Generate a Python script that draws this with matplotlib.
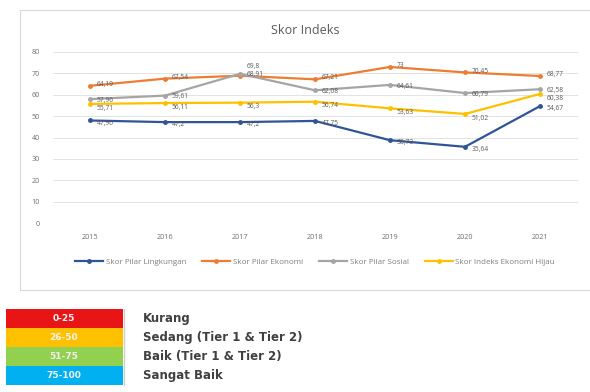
import matplotlib
matplotlib.use("Agg")
import matplotlib.pyplot as plt
from matplotlib.patches import Rectangle

years = ["2015", "2016", "2017", "2018", "2019", "2020", "2021"]
lingkungan = [47.96, 47.2, 47.2, 47.75, 38.73, 35.64, 54.67]
ekonomi = [64.19, 67.54, 68.91, 67.21, 73.0, 70.45, 68.77]
sosial = [57.96, 59.61, 69.8, 62.08, 64.61, 60.79, 62.58]
hijau = [55.71, 56.11, 56.3, 56.74, 53.63, 51.02, 60.38]
series_names = ["Skor Pilar Lingkungan", "Skor Pilar Ekonomi", "Skor Pilar Sosial",
                "Skor Indeks Ekonomi Hijau"]
y_ticks = [0, 10, 20, 30, 40, 50, 60, 70, 80]

ranges = ["0-25", "26-50", "51-75", "75-100"]
range_labels = ["Kurang", "Sedang (Tier 1 & Tier 2)", "Baik (Tier 1 & Tier 2)", "Sangat Baik"]
range_colors = ["#E81416", "#FFC000", "#92D050", "#00B0F0"]

W, H = 590, 392
fig = plt.figure(figsize=(W / 100, H / 100), dpi=100)
plt.rcParams['font.family'] = ['Open Sans', 'DejaVu Sans']

# chart frame
fig.patches.append(Rectangle((20 / W, 1 - 290 / H), 1.0, 280 / H,
                             transform=fig.transFigure, facecolor="none",
                             edgecolor="#D9D9D9", linewidth=0.8, zorder=-1))

ax = fig.add_axes([52.5 / W, 1 - 223 / H, 525 / W, 171 / H])
ax.set_facecolor("none")
colors = ["#2F5597", "#ED7D31", "#A5A5A5", "#FFC000"]
# vertical label offsets (points) per series, per point
label_dy = [[-2] * 7, [1] * 7, [-1, -1, 5, -1, -1, -1, -1], [-3] * 7]
xs = list(range(len(years)))
all_series = [lingkungan, ekonomi, sosial, hijau]
for vals, c, name, dys in zip(all_series, colors, series_names, label_dy):
    ax.plot(xs, vals, color=c, linewidth=1.6, marker="o", markersize=2.5, label=name, zorder=3)
    for x, v, dy in zip(xs, vals, dys):
        ax.annotate(f"{v:g}".replace(".", ","), (x, v), xytext=(5, dy),
                    textcoords="offset points", fontsize=4.8, color="#595959",
                    va="center", ha="left", zorder=4)

ax.set_xlim(-0.5, len(years) - 0.5)
ax.set_ylim(0, 80)
ax.set_yticks(y_ticks)
ax.set_xticks(xs)
ax.set_xticklabels(years)
ax.tick_params(axis="both", length=0, labelsize=5.2, labelcolor="#6F6F6F")
ax.tick_params(axis="x", pad=8)
ax.tick_params(axis="y", pad=9)
ax.grid(axis="y", color="#E3E3E3", linewidth=0.7)
ax.set_axisbelow(True)
for s in ax.spines.values():
    s.set_visible(False)

fig.text(305 / W, 1 - 31 / H, "Skor Indeks", ha="center", va="center",
         fontsize=9, color="#595959")

ax.legend(loc="center", bbox_to_anchor=(0.5, (223 - 262) / 171), ncol=4,
          frameon=False, fontsize=5.8, handlelength=3.5, columnspacing=2.0,
          handletextpad=0.3, labelcolor="#7F7F7F")

# category table
tax = fig.add_axes([0, 0, 1, 1], zorder=-2)
tax.set_xlim(0, W)
tax.set_ylim(H, 0)
tax.axis("off")
top = 309
rh = 19
for i, (r, lab, col) in enumerate(zip(ranges, range_labels, range_colors)):
    y0 = top + i * rh
    tax.add_patch(Rectangle((6, y0), 117, rh, facecolor=col, edgecolor="none"))
    tax.text(64, y0 + rh / 2, r, ha="center", va="center", fontsize=6.5,
             color="#F2F2F2", fontweight="bold", family="DejaVu Sans")
    tax.text(143, y0 + rh / 2, lab, ha="left", va="center", fontsize=8.5,
             color="#404040", fontweight="bold", family="DejaVu Sans")
tax.plot([124, 124], [top, top + 4 * rh], color="#D0D0D0", linewidth=1)

fig.savefig("out.png", dpi=100)
